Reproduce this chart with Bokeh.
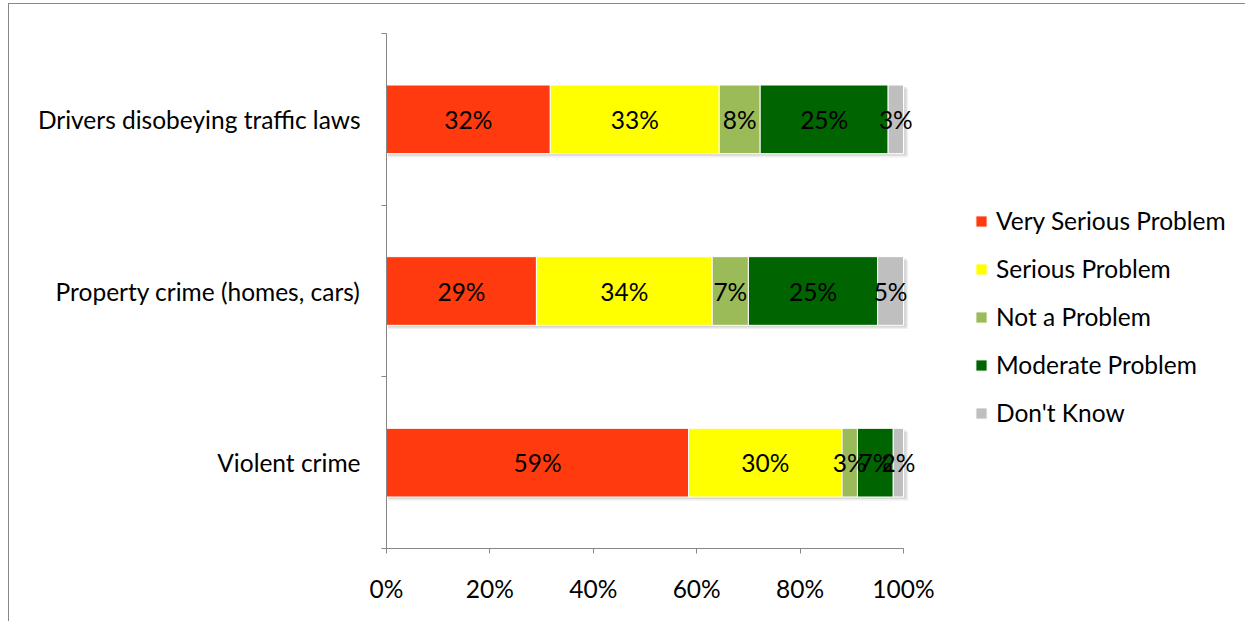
from bokeh.plotting import figure
from bokeh.models import ColumnDataSource, Range1d, FixedTicker, Legend, LegendItem
from bokeh.core.properties import value
from bokeh.embed import file_html
from bokeh.resources import INLINE

categories = ["Violent crime", "Property crime (homes, cars)", "Drivers disobeying traffic laws"]
series_names = ["Very Serious Problem", "Serious Problem", "Not a Problem", "Moderate Problem", "Don't Know"]
very_serious = [59, 29, 32]
serious = [30, 34, 33]
not_problem = [3, 7, 8]
moderate = [7, 25, 25]
dont_know = [2, 5, 3]
colors = ["#FF3A0E", "#FFFF00", "#9BBB59", "#006400", "#BFBFBF"]
x_ticks = [0, 0.2, 0.4, 0.6, 0.8, 1.0]
x_tick_labels = ["0%", "20%", "40%", "60%", "80%", "100%"]

FONT = "Lato"
FS = "24.5px"
W, H = 1245, 621
FRAME_L, FRAME_R, FRAME_T, FRAME_B = 386, 903, 33, 548

series = [very_serious, serious, not_problem, moderate, dont_know]
keys = ["s0", "s1", "s2", "s3", "s4"]
ys = [i + 0.5 for i in range(len(categories))]
totals = [sum(s[i] for s in series) for i in range(len(categories))]

data = {"y": ys, "total": [1.0] * len(ys)}
for k, s in zip(keys, series):
    data[k] = [v / t for v, t in zip(s, totals)]
src = ColumnDataSource(data)

x_end = (W - FRAME_L) / (FRAME_R - FRAME_L)
p = figure(width=W, height=H, output_backend="svg", toolbar_location=None,
           x_range=Range1d(0, x_end), y_range=Range1d(0, len(categories)),
           min_border_left=FRAME_L, min_border_right=0, min_border_top=FRAME_T,
           min_border_bottom=H - FRAME_B)
p.border_fill_color = None
p.background_fill_color = None
p.styles = {
    "background-color": "white",
    "background-image": "linear-gradient(#878787,#878787), linear-gradient(#878787,#878787)",
    "background-size": "1px 100%, 100% 1px",
    "background-position": "8px 3px, 8px 3px",
    "background-repeat": "no-repeat",
}
p.outline_line_color = None
p.grid.visible = False

# soft shadow under the bars
sh1 = ColumnDataSource({"y": [y - 0.012 for y in ys], "total": [1.006] * len(ys)})
sh2 = ColumnDataSource({"y": [y - 0.022 for y in ys], "total": [1.009] * len(ys)})
p.hbar(y="y", left=0.003, right="total", height=0.4, source=sh2,
       fill_color="#000000", fill_alpha=0.06, line_color=None)
p.hbar(y="y", left=0.003, right="total", height=0.4, source=sh1,
       fill_color="#000000", fill_alpha=0.10, line_color=None)

rs = p.hbar_stack(keys, y="y", height=0.4, color=colors, source=src,
                  line_color="white", line_width=1)

# data labels centred in each segment
for i in range(len(categories)):
    cum = 0.0
    for k, s in zip(keys, series):
        f = data[k][i]
        p.text(x=[cum + f / 2], y=[ys[i]], text=[f"{s[i]}%"], text_align="center",
               text_baseline="middle", text_font=value(FONT), text_font_size=FS,
               text_color="black")
        cum += f

# axes
xa = p.xaxis[0]
xa.bounds = (0, 1)
xa.ticker = FixedTicker(ticks=x_ticks, minor_ticks=[])
xa.major_label_overrides = {t: l for t, l in zip(x_ticks, x_tick_labels)}
xa.axis_line_color = "#878787"
xa.major_tick_line_color = "#878787"
xa.major_tick_out = 5
xa.major_tick_in = 0
xa.major_label_standoff = 20
xa.major_label_text_font = FONT
xa.major_label_text_font_size = FS
xa.major_label_text_color = "black"

ya = p.yaxis[0]
ya.ticker = FixedTicker(ticks=ys, minor_ticks=list(range(len(categories) + 1)))
ya.major_label_overrides = {y: c for y, c in zip(ys, categories)}
ya.axis_line_color = "#878787"
ya.major_tick_line_color = None
ya.major_tick_out = 0
ya.minor_tick_line_color = "#878787"
ya.minor_tick_out = 5
ya.minor_tick_in = 0
ya.major_label_standoff = 21
ya.major_label_text_font = FONT
ya.major_label_text_font_size = FS
ya.major_label_text_color = "black"

legend = Legend(items=[LegendItem(label=n, renderers=[r]) for n, r in zip(series_names, rs)],
                location=(588, 121), padding=0, margin=0, spacing=19,
                glyph_width=14, glyph_height=14, label_height=25, label_standoff=8,
                label_text_font=FONT, label_text_font_size=FS,
                label_text_color="black", label_text_baseline="middle",
                border_line_color=None, background_fill_alpha=0)
p.add_layout(legend, "center")

open("out.html", "w").write(file_html(p, INLINE))
